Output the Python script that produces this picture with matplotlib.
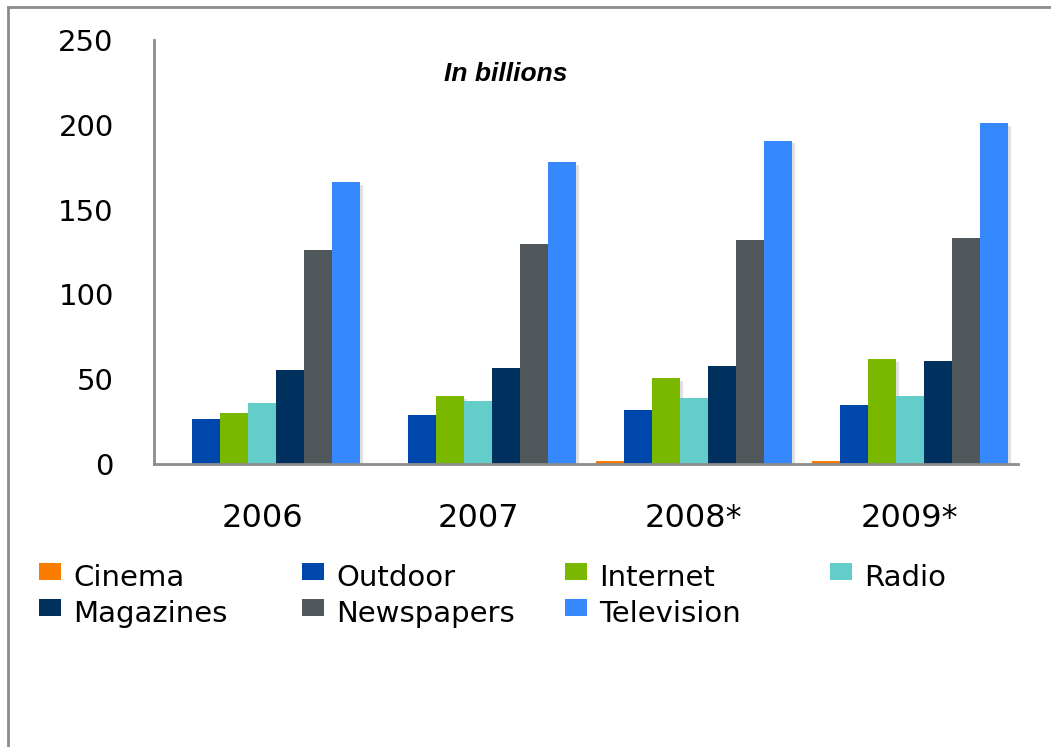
import matplotlib
matplotlib.use('Agg')
import matplotlib.pyplot as plt
import matplotlib.patheffects as pe
from matplotlib.lines import Line2D
from matplotlib.patches import Rectangle
import numpy as np

years = ['2006', '2007', '2008*', '2009*']
media = ['Cinema', 'Outdoor', 'Internet', 'Radio', 'Magazines', 'Newspapers', 'Television']
colors = ['#fa7d00', '#0047ab', '#7ab800', '#63cdc9', '#00305e', '#51585b', '#3688ff']

cinema = [0, 0, 2, 2]
outdoor = [27, 29, 32, 35]
internet = [30, 40, 51, 62]
radio = [36, 37.5, 39, 40]
magazines = [55.5, 56.5, 58, 61]
newspapers = [126, 130, 132, 133]
television = [166, 178, 190.5, 201]
values = [cinema, outdoor, internet, radio, magazines, newspapers, television]

W, H = 1051, 747
fig = plt.figure(figsize=(W / 100, H / 100), dpi=100)
ax = fig.add_axes([0.1465, 0.3782, 0.822, 0.5689])

x = np.arange(len(years))
bw = 0.1296
shadow = [pe.SimplePatchShadow(offset=(2, -2), shadow_rgbFace='k', alpha=0.12), pe.Normal()]
for i, (name, vals, c) in enumerate(zip(media, values, colors)):
    bars = ax.bar(x + (i - 3) * bw, vals, bw, color=c, label=name, zorder=3)
    for b in bars:
        b.set_path_effects(shadow)

ax.set_xlim(-0.5, 3.5)
ax.set_ylim(0, 250)
ax.set_yticks([0, 50, 100, 150, 200, 250])
ax.set_xticks(x)
ax.set_xticklabels(years, fontfamily='DejaVu Sans', fontsize=23)
for lab in ax.get_yticklabels():
    lab.set_fontfamily('DejaVu Sans')
    lab.set_fontsize(21)
ax.tick_params(axis='both', length=0)
ax.tick_params(axis='y', pad=29)
ax.tick_params(axis='x', pad=28)

for s in ['top', 'right']:
    ax.spines[s].set_visible(False)
for s in ['left', 'bottom']:
    ax.spines[s].set_color('#8c8c8c')
    ax.spines[s].set_linewidth(2)
    ax.spines[s].set_zorder(4)

ax.text(0.407, 0.92, 'In billions', transform=ax.transAxes, ha='center', va='center',
        fontfamily='Liberation Sans', fontweight='bold', fontstyle='italic', fontsize=19)

# legend: four fixed-width columns, filled row by row
col_x = [39, 302, 565, 830]
row_base = [585.7, 621.7]
for k, (name, c) in enumerate(zip(media, colors)):
    row, col = divmod(k, 4)
    px, py = col_x[col], row_base[row]
    fig.add_artist(Rectangle((px / W, 1 - (py - 5.5) / H), 22 / W, 17 / H,
                             transform=fig.transFigure, facecolor=c, edgecolor='none'))
    fig.text((px + 34) / W, 1 - py / H, name, ha='left', va='baseline',
             fontfamily='DejaVu Sans', fontsize=21)

# frame around the chart area
fig.add_artist(Line2D([0.0076, 0.0076], [0, 0.9906], transform=fig.transFigure, color='#8c8c8c', lw=2))
fig.add_artist(Line2D([0.0076, 1.0], [0.9906, 0.9906], transform=fig.transFigure, color='#8c8c8c', lw=2))

fig.savefig('out.png', dpi=100)
